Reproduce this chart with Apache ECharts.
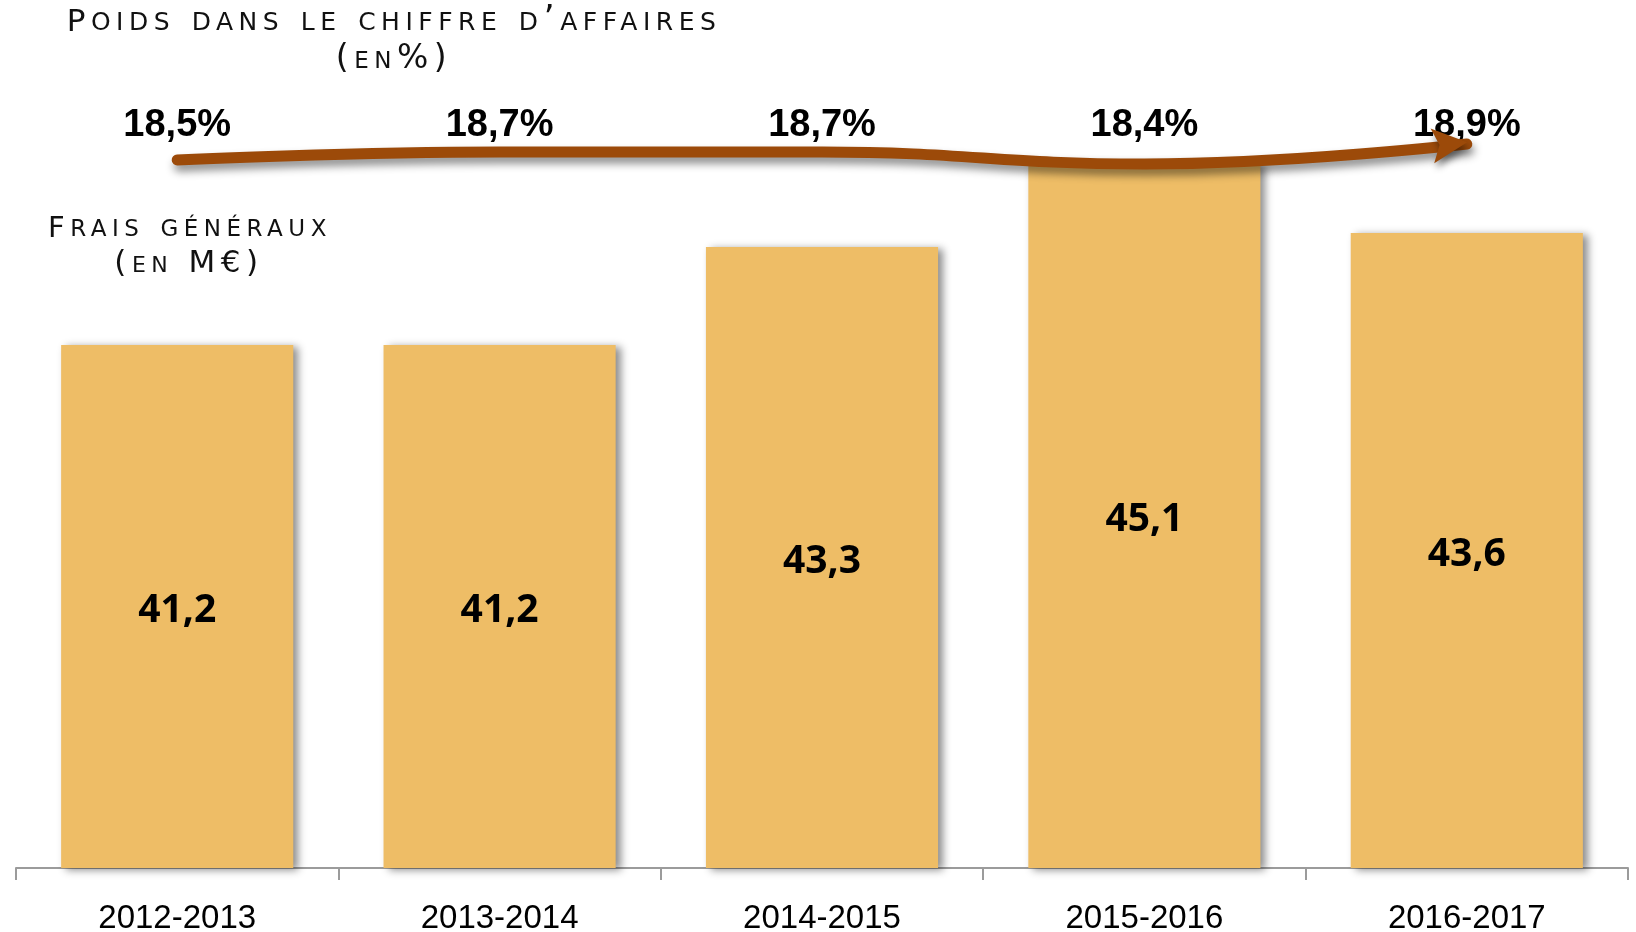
<!DOCTYPE html>
<html>
<head>
<meta charset="utf-8">
<script src="https://cdn.jsdelivr.net/npm/echarts@6/dist/echarts.min.js"></script>
<style>
html,body{margin:0;padding:0;background:#fff;}
#chart{width:1636px;height:932px;}
</style>
</head>
<body>
<div id="chart"></div>
<script>
// ---- data ----
const categories = ['2012-2013', '2013-2014', '2014-2015', '2015-2016', '2016-2017'];
const fraisGeneraux = [41.2, 41.2, 43.3, 45.1, 43.6];      // M€
const poidsCA = [18.5, 18.7, 18.7, 18.4, 18.9];            // %
const titleLines = ['Poids dans le chiffre d\u2019affaires', '(en%)'];
const subTitleLines = ['Frais généraux', '(en M€)'];

// tracked small-caps look for the two titles (canvas letter spacing only)
(function () {
  const proto = CanvasRenderingContext2D.prototype;
  const desc = Object.getOwnPropertyDescriptor(proto, 'font');
  if (desc && ('letterSpacing' in proto)) {
    Object.defineProperty(proto, 'font', {
      configurable: true,
      get() { return desc.get.call(this); },
      set(v) {
        desc.set.call(this, v);
        this.letterSpacing = /small-caps/.test(v) ? '5.5px' : '0px';
      }
    });
  }
})();

const fmt = v => v.toFixed(1).replace('.', ',');

function capsRich(capSize, restSize) {
  const base = { fontStyle: 'small-caps', fontFamily: 'DejaVu Sans', fill: '#111', verticalAlign: 'bottom' };
  return {
    c: Object.assign({}, base, { fontSize: capSize }),
    s: Object.assign({}, base, { fontSize: restSize })
  };
}
const richTitle = t => '{c|' + t.charAt(0) + '}{s|' + t.slice(1) + '}';

const chart = echarts.init(document.getElementById('chart'));
const lastIdx = poidsCA.length - 1;

chart.setOption({
  animation: false,
  backgroundColor: '#ffffff',
  grid: [
    { left: 16, right: 8, top: 121, bottom: 64, outerBoundsMode: 'none', containLabel: false },
    { left: 16, right: 8, top: 100, height: 80, outerBoundsMode: 'none', containLabel: false }
  ],
  xAxis: [
    {
      type: 'category', gridIndex: 0, data: categories,
      axisLine: { lineStyle: { color: '#9b9b9b', width: 2 } },
      axisTick: { show: true, length: 12, lineStyle: { color: '#9b9b9b', width: 2 } },
      axisLabel: {
        margin: 34, color: '#000',
        fontFamily: '"Liberation Sans", Arial, sans-serif',
        fontSize: 33
      }
    },
    {
      type: 'category', gridIndex: 1, data: categories, position: 'top',
      axisLine: { show: false }, axisTick: { show: false },
      axisLabel: {
        inside: true, margin: 7, color: '#000',
        fontFamily: '"Liberation Sans", Arial, sans-serif',
        fontWeight: 'bold', fontSize: 38,
        formatter: (v, i) => fmt(poidsCA[i]) + '%'
      }
    }
  ],
  yAxis: [
    { type: 'value', gridIndex: 0, min: 30, max: 46, show: false },
    { type: 'value', gridIndex: 1, min: 18, max: 20, show: false }
  ],
  series: [
    {
      type: 'bar', xAxisIndex: 0, yAxisIndex: 0,
      data: fraisGeneraux,
      barWidth: '72%',
      itemStyle: {
        color: '#EEBD66',
        shadowColor: 'rgba(0,0,0,0.45)', shadowBlur: 8, shadowOffsetX: 5, shadowOffsetY: 2
      },
      label: {
        show: true, position: 'inside', offset: [0, 4], color: '#000',
        fontFamily: '"Open Sans", "Liberation Sans", sans-serif', fontWeight: 'bold', fontSize: 39,
        formatter: p => fmt(p.value)
      }
    },
    {
      type: 'line', xAxisIndex: 1, yAxisIndex: 1,
      smooth: 0.45,
      data: poidsCA.map((v, i) => i === lastIdx
        ? { value: v, symbol: 'path://M0,0 L34,17 L0,34 L7,17 Z', symbolSize: [35, 35], symbolOffset: [-17, 0], symbolRotate: 6 }
        : { value: v, symbol: 'none' }),
      showSymbol: true,
      symbol: 'none',
      itemStyle: { color: '#9C4A09', shadowColor: 'rgba(0,0,0,0.45)', shadowBlur: 7, shadowOffsetY: 5, shadowOffsetX: 2 },
      lineStyle: {
        color: '#9C4A09', width: 11, cap: 'round',
        shadowColor: 'rgba(0,0,0,0.45)', shadowBlur: 8, shadowOffsetY: 6, shadowOffsetX: 2
      },
      z: 5
    }
  ],
  graphic: [
    { type: 'text', x: 394, y: 21, style: { text: richTitle(titleLines[0]), rich: capsRich(31, 35), align: 'center', verticalAlign: 'middle' } },
    { type: 'text', x: 394, y: 59, style: { text: '{s|' + titleLines[1] + '}', rich: capsRich(33, 33), align: 'center', verticalAlign: 'middle' } },
    { type: 'text', x: 190, y: 227, style: { text: richTitle(subTitleLines[0]), rich: capsRich(29, 33), align: 'center', verticalAlign: 'middle' } },
    { type: 'text', x: 189, y: 264, style: { text: '{s|' + subTitleLines[1] + '}', rich: capsRich(31, 31), align: 'center', verticalAlign: 'middle' } }
  ]
});
</script>
</body>
</html>
